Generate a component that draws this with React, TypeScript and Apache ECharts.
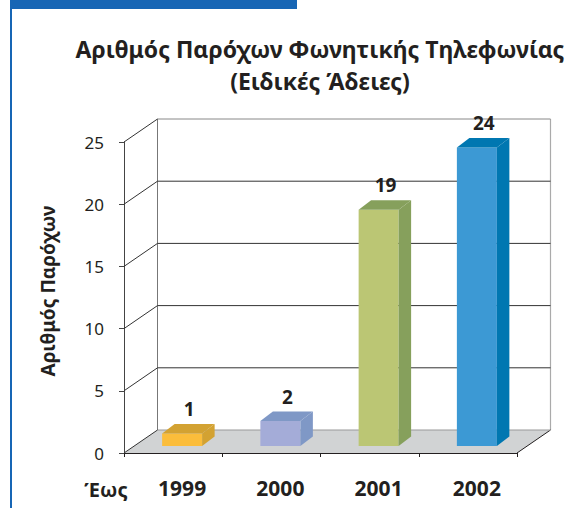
import React, { useEffect, useRef } from "react";
import * as echarts from "echarts";

const categories = ["1999", "2000", "2001", "2002"];
const values = [1, 2, 19, 24];
const yTicks = [0, 5, 10, 15, 20, 25];
const frontColors = ["#fbbd3b", "#a4acd8", "#bbc674", "#3c99d4"];
const sideColors = ["#d3a232", "#7f98c6", "#86a05c", "#0077b1"];
const titleLines = ["Αριθμός Παρόχων Φωνητικής Τηλεφωνίας", "(Ειδικές Άδειες)"];
const yAxisName = "Αριθμός Παρόχων";
const prefixLabel = "Έως";

const FONT = "'Noto Sans', 'DejaVu Sans', sans-serif";
const TEXT = "#231f20";
const DX = 33.5;
const DY = -23;
const BAR_OX = 9;
const BAR_OY = -7;
const BDX = 12.5;
const BDY = -9.5;

export default function App() {
  const ref = useRef<HTMLDivElement>(null);
  useEffect(() => {
    if (!ref.current) return;
    const chart = echarts.init(ref.current, null, { renderer: "svg" });
    const option: any = {
      animation: false,
      backgroundColor: "#ffffff",
      title: {
        text: titleLines.join("\n"),
        left: 315,
        top: 28,
        textAlign: "center",
        textStyle: {
          fontFamily: FONT,
          fontSize: 23,
          fontWeight: "bold",
          color: TEXT,
          lineHeight: 32,
        },
      },
      grid: { left: 124, right: 51, top: 142, bottom: 55 },
      xAxis: {
        type: "category",
        data: categories,
        axisLine: { show: true, lineStyle: { color: "#231f20", width: 1.2 } },
        axisTick: { show: true, length: 4, lineStyle: { color: "#231f20" } },
        axisLabel: {
          margin: 24,
          padding: [0, 0, 0, 18],
          fontFamily: FONT,
          fontSize: 21,
          fontWeight: "bold",
          color: TEXT,
        },
        splitLine: { show: false },
      },
      yAxis: {
        type: "value",
        min: 0,
        max: 25,
        interval: 5,
        axisLine: { show: true, lineStyle: { color: "#444", width: 1 } },
        axisTick: { show: true, length: 5, lineStyle: { color: "#444" } },
        axisLabel: {
          margin: 20,
          padding: [0, 0, 8, 0],
          fontFamily: FONT,
          fontSize: 17,
          color: TEXT,
        },
        splitLine: { show: false },
      },
      graphic: [
        { type: "rect", shape: { x: 10, y: 0, width: 287, height: 9 }, style: { fill: "#1766b5" } },
        { type: "rect", shape: { x: 10, y: 0, width: 2, height: 508 }, style: { fill: "#1766b5" } },
        {
          type: "text",
          x: 48,
          y: 291,
          rotation: Math.PI / 2,
          style: {
            text: yAxisName,
            fontFamily: FONT,
            fontSize: 19,
            fontWeight: "bold",
            fill: TEXT,
            textAlign: "center",
            textVerticalAlign: "middle",
          },
        },
        {
          type: "text",
          x: 106,
          y: 489,
          style: {
            text: prefixLabel,
            fontFamily: FONT,
            fontSize: 20,
            fontWeight: "bold",
            fill: TEXT,
            textAlign: "center",
            textVerticalAlign: "middle",
          },
        },
      ],
      series: [
        {
          type: "custom",
          z: 1,
          data: [[0, 0]],
          renderItem: (params: any, api: any) => {
            const cs = params.coordSys;
            const L = cs.x, R = cs.x + cs.width, T = cs.y, B = cs.y + cs.height;
            return {
              type: "group",
              children: [
                {
                  type: "polygon",
                  shape: { points: [[L, B], [R, B], [R + DX, B + DY], [L + DX, B + DY]] },
                  style: { fill: "#d1d3d4", stroke: "none" },
                },
                {
                  type: "line",
                  shape: { x1: L + DX, y1: B + DY, x2: L + DX, y2: T + DY },
                  style: { stroke: "#777", lineWidth: 1 },
                },
                {
                  type: "line",
                  shape: { x1: R + DX, y1: B + DY, x2: R + DX, y2: T + DY },
                  style: { stroke: "#aaa", lineWidth: 1.2 },
                },
                {
                  type: "line",
                  shape: { x1: R, y1: B, x2: R + DX, y2: B + DY },
                  style: { stroke: "#231f20", lineWidth: 1 },
                },
              ],
            };
          },
        },
        {
          type: "custom",
          z: 2,
          data: yTicks.map((v) => [0, v]),
          renderItem: (params: any, api: any) => {
            const cs = params.coordSys;
            const L = cs.x, R = cs.x + cs.width;
            const y = api.coord([0, api.value(1)])[1];
            const isTop = api.value(1) === yTicks[yTicks.length - 1];
            const isBottom = api.value(1) === 0;
            const c = isTop ? "#888" : isBottom ? "#999" : "#333";
            return {
              type: "group",
              children: [
                {
                  type: "line",
                  shape: { x1: L + DX, y1: y + DY, x2: R + DX, y2: y + DY },
                  style: { stroke: c, lineWidth: 1 },
                },
                {
                  type: "line",
                  shape: { x1: L, y1: y, x2: L + DX, y2: y + DY },
                  style: { stroke: "#333", lineWidth: 1 },
                },
              ],
            };
          },
        },
        {
          type: "custom",
          z: 3,
          data: values.map((v, i) => [i, v]),
          renderItem: (params: any, api: any) => {
            const i = api.value(0);
            const base = api.coord([i, 0]);
            const top = api.coord([i, api.value(1)]);
            const band = api.size([1, 0])[0];
            const w = band * 0.407;
            const cx = base[0] + BAR_OX;
            const x0 = cx - w / 2, x1 = cx + w / 2;
            const yb = base[1] + BAR_OY, yt = top[1] + BAR_OY;
            const idx = params.dataIndex;
            return {
              type: "group",
              children: [
                {
                  type: "rect",
                  shape: { x: x0, y: yt, width: w, height: yb - yt },
                  style: { fill: frontColors[idx] },
                },
                {
                  type: "polygon",
                  shape: { points: [[x1, yb], [x1 + BDX, yb + BDY], [x1 + BDX, yt + BDY], [x1, yt]] },
                  style: { fill: sideColors[idx] },
                },
                {
                  type: "polygon",
                  shape: { points: [[x0, yt], [x1, yt], [x1 + BDX, yt + BDY], [x0 + BDX, yt + BDY]] },
                  style: { fill: sideColors[idx] },
                },
                {
                  type: "text",
                  style: {
                    text: String(api.value(1)),
                    x: cx + 7,
                    y: yt + BDY - 15,
                    textAlign: "center",
                    textVerticalAlign: "middle",
                    fontFamily: FONT,
                    fontSize: 19,
                    fontWeight: "bold",
                    fill: TEXT,
                  },
                },
              ],
            };
          },
        },
      ],
    };
    chart.setOption(option);
    return () => chart.dispose();
  }, []);
  return (
    <div
      ref={ref}
      style={{ position: "absolute", left: 0, top: 0, width: 568, height: 508 }}
    />
  );
}
